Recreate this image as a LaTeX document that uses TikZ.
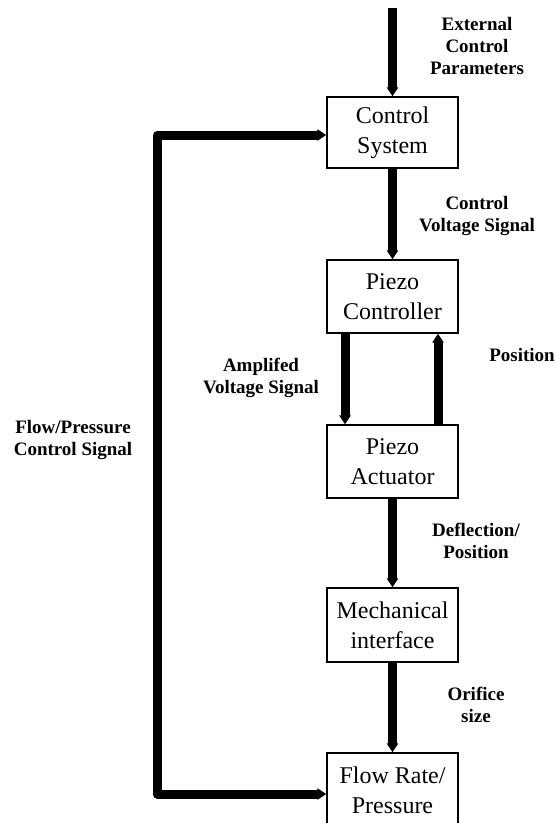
\documentclass[tikz,border=0pt]{standalone}
\usepackage{fontspec}
\setmainfont{Liberation Serif}
\usetikzlibrary{arrows.meta}
\tikzset{
  blockbox/.style={draw, line width=1.3pt, minimum width=131pt, minimum height=73pt, inner sep=0pt, align=center, font=\fontsize{24}{30}\selectfont},
  lbl/.style={align=center, inner sep=0pt, font=\fontsize{19}{22}\selectfont\bfseries},
  flow/.style={line width=9pt, -{Triangle[width=11pt,length=9pt]}},
  flowboth/.style={line width=9pt, line join=round, {Triangle[width=11pt,length=9pt]}-{Triangle[width=11pt,length=9pt]}}
}
\begin{document}
\begin{tikzpicture}[x=1pt,y=-1pt]
\useasboundingbox (0,0) rectangle (557,823);
\fill[white] (0,0) rectangle (557,823);

\node[blockbox, minimum height=71pt] (cs) at (392.5,132.5) {Control\\System};
\node[blockbox] (pc) at (392.5,296.5) {Piezo\\Controller};
\node[blockbox] (pa) at (392.5,461.5) {Piezo\\Actuator};
\node[blockbox, minimum height=74pt] (mi) at (392.5,625) {Mechanical\\interface};
\node[blockbox, minimum height=74pt] (fr) at (392.5,790) {Flow Rate/\\Pressure};

\coordinate (ext) at (392.5,8);
\coordinate (fbb) at (157,794);
\coordinate (fbt) at (157,135);

\draw[flow] (ext) -- (cs.north);
\draw[flow] (cs.south) -- (pc.north);
\draw[flow] ([xshift=-47.5pt]pc.south) -- ([xshift=-47.5pt]pa.north);
\draw[flow] ([xshift=45.5pt]pa.north) -- ([xshift=45.5pt]pc.south);
\draw[flow] (pa.south) -- (mi.north);
\draw[flow] (mi.south) -- (fr.north);
\draw[flowboth] (fr.west |- fbb) -- (fbb) -- (fbt) -- (cs.west |- fbt);

\node[lbl] (l1) at (477,46) {External\\Control\\Parameters};
\node[lbl] (l2) at (477,216) {Control\\Voltage Signal};
\node[lbl] (l3) at (261,378) {Amplifed\\Voltage Signal};
\node[lbl] (l4) at (522,355) {Position};
\node[lbl] (l5) at (73,440) {Flow/Pressure\\Control Signal};
\node[lbl] (l6) at (476,541) {Deflection/\\Position};
\node[lbl] (l7) at (476,705) {Orifice\\size};
\end{tikzpicture}
\end{document}
